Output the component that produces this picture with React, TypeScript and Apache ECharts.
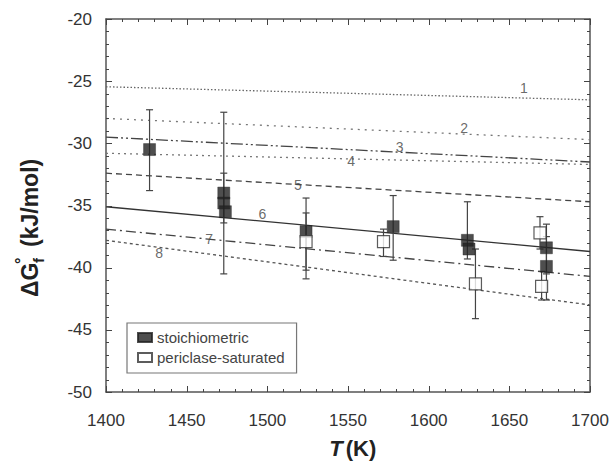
import React, { useEffect, useRef } from "react";
import * as echarts from "echarts";

// ---- data ----
const xTicks = [1400, 1450, 1500, 1550, 1600, 1650, 1700];
const yTicks = [-50, -45, -40, -35, -30, -25, -20];

const lineNames = ["1", "2", "3", "4", "5", "6", "7", "8"];
const lineT = [1400, 1700];
const lineStartVals = [-25.45, -28.0, -29.5, -30.8, -32.4, -35.1, -36.9, -37.8];
const lineEndVals = [-26.5, -29.7, -31.5, -31.7, -34.7, -38.7, -40.7, -43.0];
const lineLabelT = [1659, 1622, 1582, 1552, 1519, 1497, 1464, 1433];
const lineLabelG = [-25.55, -28.77, -30.3, -31.4, -33.35, -35.7, -37.7, -38.8];

const stoichT = [1427, 1473, 1473, 1474, 1524, 1578, 1624, 1625, 1673, 1673];
const stoichG = [-30.5, -34.0, -34.8, -35.5, -37.1, -36.7, -37.8, -38.5, -38.4, -39.9];
const stoichLo = [-33.8, -40.5, -36.4, -35.5, -40.9, -39.4, -39.3, -38.5, -40.5, -42.6];
const stoichHi = [-27.3, -27.5, -32.4, -35.5, -34.4, -34.2, -34.7, -38.5, -36.5, -37.5];

const periT = [1524, 1572, 1629, 1669, 1670];
const periG = [-37.9, -37.9, -41.3, -37.2, -41.5];
const periLo = [-40.2, -39.1, -44.1, -38.5, -42.6];
const periHi = [-35.6, -36.9, -38.5, -35.9, -40.3];

const lineDash: any[] = [
  [1.5, 2],
  [2, 5],
  [12, 3, 2, 3, 2, 3],
  [2, 4],
  [6, 4],
  "solid",
  [10, 4, 2, 4],
  [3, 3],
];
const lineColors = ["#666", "#777", "#444", "#777", "#444", "#333", "#444", "#555"];

const W = 616;
const H = 465;
const GL = 106;
const GR = 26;
const GT = 19;
const GB = 73;

export default function App() {
  const ref = useRef<HTMLDivElement>(null);
  useEffect(() => {
    if (!ref.current) return;
    const chart = echarts.init(ref.current, null, { renderer: "svg" });
    const font = "Liberation Sans, Arial, sans-serif";
    const xMin = xTicks[0];
    const xMax = xTicks[xTicks.length - 1];
    const yMin = yTicks[0];
    const yMax = yTicks[yTicks.length - 1];

    // frame geometry matching the grid, for the inward tick marks
    const px = (v: number) => GL + ((v - xMin) / (xMax - xMin)) * (W - GL - GR);
    const py = (v: number) => GT + ((yMax - v) / (yMax - yMin)) * (H - GT - GB);
    const tickEls: any[] = [];
    for (let i = 0; i < xTicks.length; i++) {
      for (let k = 0; k < 5; k++) {
        const v = xTicks[i] + k * 10;
        if (v > xMax) break;
        const L = k === 0 ? 6 : 3;
        const x = Math.round(px(v)) + 0.5;
        tickEls.push({
          type: "line",
          z: 100,
          silent: true,
          shape: { x1: x, y1: H - GB, x2: x, y2: H - GB - L },
          style: { stroke: "#444", lineWidth: 1 },
        });
        tickEls.push({
          type: "line",
          z: 100,
          silent: true,
          shape: { x1: x, y1: GT, x2: x, y2: GT + L },
          style: { stroke: "#444", lineWidth: 1 },
        });
      }
    }
    for (let i = 0; i < yTicks.length; i++) {
      for (let k = 0; k < 5; k++) {
        const v = yTicks[i] + k;
        if (v > yMax) break;
        const L = k === 0 ? 6 : 3;
        const y = Math.round(py(v)) + 0.5;
        tickEls.push({
          type: "line",
          z: 100,
          silent: true,
          shape: { x1: GL, y1: y, x2: GL + L, y2: y },
          style: { stroke: "#444", lineWidth: 1 },
        });
        tickEls.push({
          type: "line",
          z: 100,
          silent: true,
          shape: { x1: W - GR, y1: y, x2: W - GR - L, y2: y },
          style: { stroke: "#444", lineWidth: 1 },
        });
      }
    }

    const lineSeries = lineNames.map((n, i) => ({
      type: "line",
      name: "line" + n,
      data: [
        [lineT[0], lineStartVals[i]],
        [lineT[1], lineEndVals[i]],
      ],
      showSymbol: false,
      symbol: "none",
      lineStyle: { color: lineColors[i], width: 1.3, type: lineDash[i] },
      z: 2,
      silent: true,
    }));

    const errRender = (params: any, api: any) => {
      const x = api.value(0);
      const lo = api.value(1);
      const hi = api.value(2);
      if (lo === hi) return null;
      const p1 = api.coord([x, hi]);
      const p2 = api.coord([x, lo]);
      const st = { stroke: "#444", lineWidth: 1.2 };
      return {
        type: "group",
        children: [
          { type: "line", shape: { x1: p1[0], y1: p1[1], x2: p2[0], y2: p2[1] }, style: st },
          { type: "line", shape: { x1: p1[0] - 3.5, y1: p1[1], x2: p1[0] + 3.5, y2: p1[1] }, style: st },
          { type: "line", shape: { x1: p2[0] - 3.5, y1: p2[1], x2: p2[0] + 3.5, y2: p2[1] }, style: st },
        ],
      };
    };

    const mkAxis = (pos: string, isX: boolean, labels: boolean) => ({
      type: "value",
      min: isX ? xMin : yMin,
      max: isX ? xMax : yMax,
      interval: isX ? 50 : 5,
      position: pos,
      axisLine: { show: true, onZero: false, lineStyle: { color: "#555", width: 1.5 } },
      axisTick: { show: false },
      minorTick: { show: false },
      splitLine: { show: false },
      axisLabel: labels
        ? {
            show: true,
            fontFamily: font,
            fontSize: 17,
            color: "#333",
            margin: isX ? 20 : 14,
            formatter: (v: number) => String(v),
          }
        : { show: false },
    });

    const option: any = {
      animation: false,
      grid: { left: GL, right: GR, top: GT, bottom: GB },
      legend: {
        data: ["stoichiometric", "periclase-saturated"],
        left: 127,
        top: 323,
        orient: "vertical",
        borderColor: "#777",
        borderWidth: 1.2,
        padding: [7, 12, 8, 10],
        itemGap: 5,
        itemWidth: 14,
        itemHeight: 9,
        textStyle: { fontFamily: font, fontSize: 15, color: "#444" },
      },
      xAxis: [mkAxis("bottom", true, true), mkAxis("top", true, false)],
      yAxis: [mkAxis("left", false, true), mkAxis("right", false, false)],
      series: [
        ...lineSeries,
        {
          type: "scatter",
          name: "labels",
          data: lineLabelT.map((t, i) => [t, lineLabelG[i], lineNames[i]]),
          symbolSize: 0,
          silent: true,
          label: {
            show: true,
            position: "inside",
            formatter: (p: any) => p.value[2],
            fontFamily: font,
            fontSize: 14,
            color: "#444",
          },
          z: 3,
        },
        {
          type: "custom",
          name: "errStoich",
          renderItem: errRender,
          data: stoichT.map((t, i) => [t, stoichLo[i], stoichHi[i]]),
          encode: { x: 0, y: [1, 2] },
          z: 4,
          silent: true,
        },
        {
          type: "custom",
          name: "errPeri",
          renderItem: errRender,
          data: periT.map((t, i) => [t, periLo[i], periHi[i]]),
          encode: { x: 0, y: [1, 2] },
          z: 4,
          silent: true,
        },
        {
          type: "scatter",
          name: "stoichiometric",
          data: stoichT.map((t, i) => [t, stoichG[i]]),
          symbol: "rect",
          symbolSize: 12,
          itemStyle: { color: "#222", borderColor: "#222", borderWidth: 0.5 },
          z: 5,
        },
        {
          type: "scatter",
          name: "periclase-saturated",
          data: periT.map((t, i) => [t, periG[i]]),
          symbol: "rect",
          symbolSize: 12,
          itemStyle: { color: "#fff", borderColor: "#333", borderWidth: 1.2 },
          z: 5,
        },
      ],
      graphic: [
        {
          type: "group",
          x: 30,
          y: 205,
          rotation: Math.PI / 2,
          children: [
            {
              type: "text",
              x: -92,
              y: 0,
              style: {
                text: "ΔG",
                font: "bold 23px Liberation Sans, Arial, sans-serif",
                fill: "#222",
                verticalAlign: "middle",
              },
            },
            {
              type: "text",
              x: -59,
              y: -9,
              style: {
                text: "°",
                font: "bold 16px Liberation Sans, Arial, sans-serif",
                fill: "#222",
                verticalAlign: "middle",
              },
            },
            {
              type: "text",
              x: -58,
              y: 8,
              style: {
                text: "f",
                font: "bold 15px Liberation Sans, Arial, sans-serif",
                fill: "#222",
                verticalAlign: "middle",
              },
            },
            {
              type: "text",
              x: -42,
              y: 0,
              style: {
                text: "(kJ/mol)",
                font: "bold 23px Liberation Sans, Arial, sans-serif",
                fill: "#222",
                verticalAlign: "middle",
              },
            },
          ],
        },
        {
          type: "group",
          x: 350,
          y: 448,
          children: [
            {
              type: "text",
              x: -14,
              y: 0,
              style: {
                text: "T",
                font: "bold italic 22px Liberation Sans, Arial, sans-serif",
                fill: "#222",
                align: "center",
                verticalAlign: "middle",
              },
            },
            {
              type: "text",
              x: 11,
              y: 0,
              style: {
                text: "(K)",
                font: "bold 22px Liberation Sans, Arial, sans-serif",
                fill: "#222",
                align: "center",
                verticalAlign: "middle",
              },
            },
          ],
        },
        ...tickEls,
      ],
    };
    chart.setOption(option);
    return () => chart.dispose();
  }, []);
  return (
    <div
      ref={ref}
      style={{ position: "fixed", left: 0, top: 0, width: W, height: H, background: "#fff" }}
    />
  );
}
